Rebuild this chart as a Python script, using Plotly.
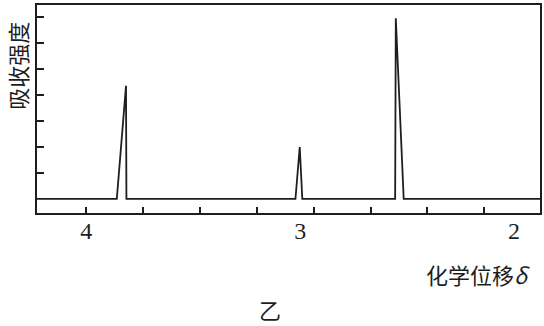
import plotly.graph_objects as go

# Spectrum vertices (chemical shift δ, absorption intensity)
shift = [4.23, 3.857, 3.814, 3.812, 3.022, 3.002, 2.990, 2.556, 2.553, 2.516, 1.879]
intensity = [0, 0, 4.35, 0, 0, 2.0, 0, 0, 6.95, 0, 0]

x_labels = [4, 3, 2]
x_minor_ticks = [4.0, 3.733, 3.469, 3.20, 2.937, 2.67, 2.406, 2.14]
y_ticks = [1, 2, 3, 4, 5, 6, 7]

ink = "#1e1e1e"

fig = go.Figure()
fig.add_trace(go.Scatter(x=shift, y=intensity, mode="lines",
                         line=dict(color=ink, width=1.8), hoverinfo="skip",
                         showlegend=False))

fig.update_layout(
    width=544, height=326,
    margin=dict(l=37, r=2, t=5, b=113),
    paper_bgcolor="white", plot_bgcolor="white",
    xaxis=dict(range=[4.23, 1.879], showgrid=False, zeroline=False,
               showline=True, linecolor=ink, linewidth=1.6, mirror=True,
               tickmode="array", tickvals=x_labels,
               ticktext=[str(v) for v in x_labels],
               ticks="", ticklabelstandoff=-5,
               tickfont=dict(family="Liberation Serif", size=24, color=ink),
               minor=dict(tickmode="array", tickvals=x_minor_ticks,
                          ticks="inside", ticklen=6, tickwidth=1.5,
                          tickcolor=ink, showgrid=False)),
    yaxis=dict(range=[-0.54, 7.46], showgrid=False, zeroline=False,
               showline=True, linecolor=ink, linewidth=1.6, mirror=True,
               tickmode="array", tickvals=y_ticks, showticklabels=False,
               ticks="inside", ticklen=7, tickwidth=1.5, tickcolor=ink),
    annotations=[
        dict(text="吸收强度", xref="paper", yref="paper", x=-0.04, y=0.707,
             xanchor="center", yanchor="middle", textangle=-90, showarrow=False,
             font=dict(family="Noto Sans CJK SC", size=22, color=ink)),
        dict(text="化学位移<i>δ</i>", xref="paper", yref="paper", x=0.985, y=-0.291,
             xanchor="right", yanchor="middle", showarrow=False,
             font=dict(family="Noto Sans CJK SC", size=22, color=ink)),
        dict(text="乙", xref="paper", yref="paper", x=0.463, y=-0.46,
             xanchor="center", yanchor="middle", showarrow=False,
             font=dict(family="Noto Sans CJK SC", size=22, color=ink)),
    ],
)

fig.write_html("out.html")
